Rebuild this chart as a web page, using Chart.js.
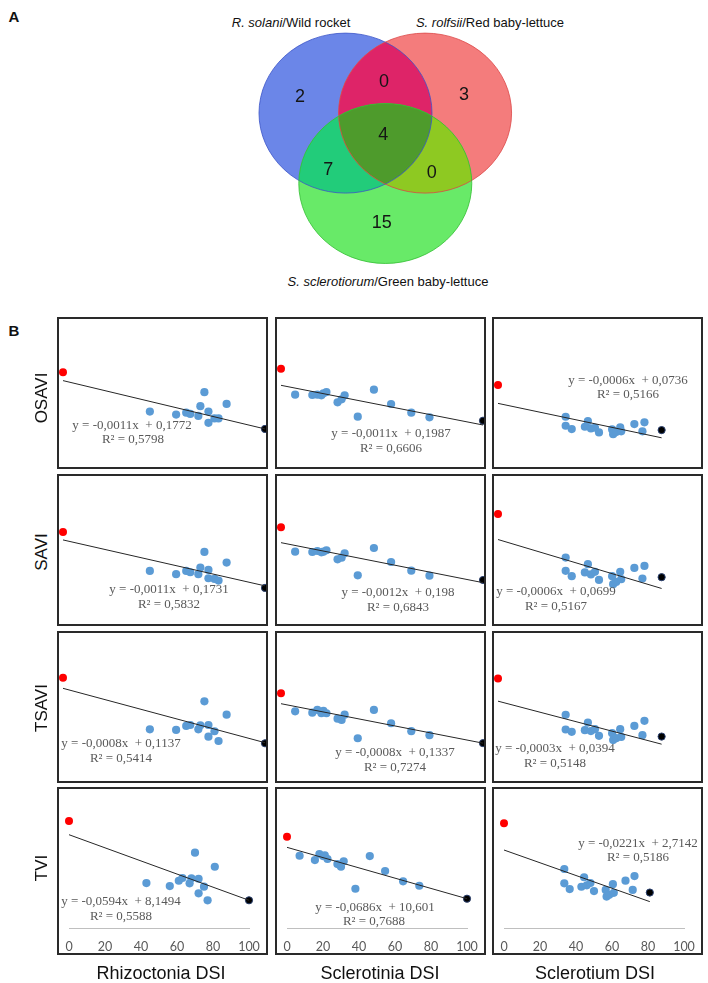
<!DOCTYPE html>
<html>
<head>
<meta charset="utf-8">
<script src="https://cdn.jsdelivr.net/npm/chart.js@4.4.0/dist/chart.umd.min.js"></script>
<style>
body { margin: 0; background: #fff; width: 708px; height: 983px; position: relative; overflow: hidden; font-family: "Liberation Sans", Arial, sans-serif; color: #111; }
.t { position: absolute; transform: translate(-50%, -50%); white-space: pre; }
.rot { transform: translate(-50%, -50%) rotate(-90deg); }
.panel { position: absolute; border: 2px solid #2a2a2a; box-sizing: border-box; }
.panel canvas { display: block; }
.eq { position: absolute; transform: translate(-50%, -50%); white-space: pre; font-family: "Liberation Serif", "Times New Roman", serif; font-size: 13px; color: #595959; }
</style>
</head>
<body>
<div class="t" style="left:14px;top:16px;font-weight:bold;font-size:15px">A</div>
<div class="t" style="left:291px;top:22px;font-size:13px"><i>R. solani</i>/Wild rocket</div>
<div class="t" style="left:490px;top:22px;font-size:13px"><i>S. rolfsii</i>/Red baby-lettuce</div>
<div class="t" style="left:388px;top:281px;font-size:13px"><i>S. sclerotiorum</i>/Green baby-lettuce</div>
<canvas id="venn" width="280" height="245" style="position:absolute;left:250px;top:28px"></canvas>
<div class="t" style="left:14px;top:330px;font-weight:bold;font-size:15px">B</div>

<script>
// --- Venn data ---
const vennCounts = [2, 0, 3, 4, 7, 0, 15];
const vennLabelX = [-0.986, -0.015, 0.91, -0.023, -0.66, 0.536, -0.042];
const vennLabelY = [0.645, 0.833, 0.666, 0.166, -0.271, -0.305, -0.93];
const vennCenterX = [-0.46, 0.46, 0];
const vennCenterY = [0.44, 0.44, -0.44];
const vennRadius = 1;

// --- DSI (x) per pathogen; first = red point, last = black point ---
const rhizoctoniaDSI = [0, 43, 56, 61, 63, 67, 68, 70, 72, 72, 75, 77, 81, 100];
const sclerotiniaDSI = [0, 7, 15.5, 18, 20, 21, 22.5, 28, 30, 31.5, 38, 46, 54.5, 64.5, 73.5, 100];
const sclerotiumDSI = [0, 33.5, 33.5, 36.5, 43, 44.5, 46, 48, 50, 56.5, 57, 58.5, 60.5, 61, 67.5, 71.5, 72.5, 81];

// --- index values ---
const osaviRhizoctonia = [0.1963, 0.1066, 0.0998, 0.1043, 0.1013, 0.0968, 0.1189, 0.1508, 0.1066, 0.0811, 0.0911, 0.0911, 0.1241, 0.0672];
const osaviSclerotinia = [0.2447, 0.1727, 0.1718, 0.1727, 0.171, 0.1765, 0.1801, 0.1516, 0.1599, 0.171, 0.1117, 0.1865, 0.1469, 0.1228, 0.1101, 0.1006];
const osaviSclerotium = [0.0994, 0.0547, 0.0420, 0.0373, 0.0406, 0.0486, 0.0383, 0.0392, 0.0326, 0.0369, 0.0302, 0.0331, 0.0397, 0.0341, 0.0444, 0.0341, 0.0468, 0.0359];

const saviRhizoctonia = [0.1922, 0.0989, 0.0910, 0.0989, 0.0957, 0.0910, 0.1069, 0.1444, 0.1013, 0.0814, 0.0798, 0.0758, 0.1189, 0.0583];
const saviSclerotinia = [0.2442, 0.171, 0.170, 0.173, 0.169, 0.171, 0.1752, 0.148, 0.153, 0.166, 0.1001, 0.182, 0.140, 0.114, 0.099, 0.086];
const saviSclerotium = [0.0953, 0.0520, 0.0388, 0.0335, 0.0372, 0.0454, 0.0352, 0.0378, 0.0298, 0.0335, 0.0256, 0.0278, 0.0378, 0.0305, 0.0417, 0.0312, 0.0437, 0.0325];

const tsaviRhizoctonia = [0.1293, 0.0534, 0.0524, 0.0583, 0.0597, 0.0534, 0.0593, 0.0946, 0.0597, 0.0425, 0.0505, 0.0362, 0.0749, 0.0328];
const tsaviSclerotinia = [0.1547, 0.1183, 0.1155, 0.1210, 0.1143, 0.1190, 0.1143, 0.1034, 0.1008, 0.1115, 0.0637, 0.1210, 0.0941, 0.0779, 0.0699, 0.0537];
const tsaviSclerotium = [0.0522, 0.0317, 0.0234, 0.0221, 0.0230, 0.0273, 0.0225, 0.0236, 0.0198, 0.0213, 0.0174, 0.0185, 0.0236, 0.0192, 0.0254, 0.0202, 0.0283, 0.0194];

const tviRhizoctonia = [9.39, 3.77, 3.50, 3.98, 4.23, 3.75, 4.20, 6.52, 4.16, 2.84, 3.44, 2.21, 5.25, 2.21];
const tviSclerotinia = [12.02, 9.48, 8.90, 9.71, 9.44, 9.53, 9.04, 8.37, 8.01, 8.73, 5.07, 9.44, 7.44, 6.06, 5.47, 3.74];
const tviSclerotium = [3.64, 2.056, 1.56, 1.36, 1.44, 1.77, 1.49, 1.57, 1.29, 1.33, 1.10, 1.16, 1.53, 1.23, 1.65, 1.33, 1.81, 1.24];

// --- trendlines ---
const slopes = [[-0.0011, -0.0011, -0.0006], [-0.0011, -0.0012, -0.0006], [-0.0008, -0.0008, -0.0003], [-0.0594, -0.0686, -0.0221]];
const intercepts = [[0.1772, 0.1987, 0.0736], [0.1731, 0.198, 0.0699], [0.1137, 0.1337, 0.0394], [8.1494, 10.601, 2.7142]];
const rSquared = [[0.5798, 0.6606, 0.5166], [0.5832, 0.6843, 0.5167], [0.5414, 0.7274, 0.5148], [0.5588, 0.7688, 0.5186]];

// --- hidden y ranges and x ticks ---
const yMin = [[-0.0195, -0.0277, -0.0162], [-0.0282, -0.046, -0.014], [-0.0227, -0.023, -0.0057], [-0.3, -0.17, 0.01]];
const yMax = [[0.3175, 0.3825, 0.1927], [0.3262, 0.398, 0.133], [0.1951, 0.277, 0.0779], [12.29, 18.39, 4.83]];
const xTicks = [0, 20, 40, 60, 80, 100];

const indexNames = ['OSAVI', 'SAVI', 'TSAVI', 'TVI'];
const diseaseNames = ['Rhizoctonia DSI', 'Sclerotinia DSI', 'Sclerotium DSI'];
const xByCol = [rhizoctoniaDSI, sclerotiniaDSI, sclerotiumDSI];
const yByPanel = [
    [osaviRhizoctonia, osaviSclerotinia, osaviSclerotium],
    [saviRhizoctonia, saviSclerotinia, saviSclerotium],
    [tsaviRhizoctonia, tsaviSclerotinia, tsaviSclerotium],
    [tviRhizoctonia, tviSclerotinia, tviSclerotium]
];

// layout
const colLeft = [57, 275, 492];
const panelW = 211;
const rowTop = [317, 474, 631, 787];
const rowH = [152, 152, 152, 168];
const rowLabelY = [398, 552, 708, 868];
const colLabelX = [161, 380, 595];
const eqPos = [
    [132, 425, 133, 439], [391, 433, 391, 448], [628, 380, 628, 394],
    [169, 589, 169, 604], [398, 592, 398, 607], [556, 591, 556, 606],
    [121, 743, 121, 758], [395, 752, 395, 767], [555, 748, 555, 763],
    [121, 901, 121, 916], [375, 907, 374, 921], [638, 843, 638, 857]
];

function addText(cls, x, y, txt, style) {
    const d = document.createElement('div');
    d.className = cls;
    d.style.left = x + 'px';
    d.style.top = y + 'px';
    if (style) d.style.cssText += style;
    d.textContent = txt;
    document.body.appendChild(d);
}

// Venn diagram
const vennPlugin = {
    id: 'venn',
    beforeDatasetsDraw(chart) {
        const ctx = chart.ctx;
        const xs = chart.scales.x, ys = chart.scales.y;
        const rx = Math.abs(xs.getPixelForValue(vennRadius) - xs.getPixelForValue(0));
        const ry = Math.abs(ys.getPixelForValue(vennRadius) - ys.getPixelForValue(0));
        const ell = i => {
            ctx.beginPath();
            ctx.ellipse(xs.getPixelForValue(vennCenterX[i]), ys.getPixelForValue(vennCenterY[i]), rx, ry, 0, 0, Math.PI * 2);
        };
        const solo = ['#6b86e8', '#f47c7c', '#68ea68'];
        const edge = ['rgba(60,85,200,0.8)', 'rgba(220,70,70,0.8)', 'rgba(50,190,50,0.8)'];
        ctx.save();
        for (let i = 0; i < 3; i++) { ell(i); ctx.fillStyle = solo[i]; ctx.fill(); }
        const pairs = [[0, 1, '#de2468'], [0, 2, '#22cc7a'], [1, 2, '#8ec922']];
        for (const [a, b, c] of pairs) {
            ctx.save(); ell(a); ctx.clip(); ell(b); ctx.fillStyle = c; ctx.fill(); ctx.restore();
        }
        ctx.save(); ell(0); ctx.clip(); ell(1); ctx.clip(); ell(2); ctx.fillStyle = '#4e9b2c'; ctx.fill(); ctx.restore();
        ctx.lineWidth = 1;
        for (let i = 0; i < 3; i++) { ell(i); ctx.strokeStyle = edge[i]; ctx.stroke(); }
        ctx.restore();
    },
    afterDatasetsDraw(chart) {
        const ctx = chart.ctx;
        const meta = chart.getDatasetMeta(0);
        ctx.save();
        ctx.font = '18px "Liberation Sans", Arial, sans-serif';
        ctx.fillStyle = '#151515';
        ctx.textAlign = 'center';
        ctx.textBaseline = 'middle';
        meta.data.forEach((pt, i) => ctx.fillText(String(vennCounts[i]), pt.x, pt.y));
        ctx.restore();
    }
};

new Chart(document.getElementById('venn'), {
    type: 'scatter',
    data: { datasets: [{ data: vennLabelX.map((x, i) => ({ x: x, y: vennLabelY[i] })), pointRadius: 0 }] },
    options: {
        responsive: false, animation: false, events: [],
        layout: { padding: 0, autoPadding: false },
        plugins: { legend: { display: false }, tooltip: { enabled: false } },
        scales: {
            x: { display: false, min: -1.564, max: 1.673 },
            y: { display: false, min: -1.559, max: 1.504 }
        }
    },
    plugins: [vennPlugin]
});

// scatter panels
function makePanel(r, c) {
    const isBottom = r === 3;
    const div = document.createElement('div');
    div.className = 'panel';
    div.style.left = colLeft[c] + 'px';
    div.style.top = rowTop[r] + 'px';
    div.style.width = panelW + 'px';
    div.style.height = rowH[r] + 'px';
    const cv = document.createElement('canvas');
    cv.width = panelW - 4;
    cv.height = rowH[r] - 4;
    div.appendChild(cv);
    document.body.appendChild(div);

    const xs = xByCol[c], ys = yByPanel[r][c];
    const pts = xs.map((x, i) => ({ x: x, y: ys[i] }));
    const n = pts.length;
    const x0 = Math.min(...xs), x1 = Math.max(...xs);
    const trend = [x0, x1].map(x => ({ x: x, y: slopes[r][c] * x + intercepts[r][c] }));

    const xScale = {
        type: 'linear', min: 0, max: 100, display: isBottom,
        grid: { display: false, drawTicks: true, tickLength: 11 },
        border: { display: true, color: '#bfbfbf', width: 1 },
        ticks: { padding: 0, color: '#595959', font: { family: 'Lato', size: 12.5 } },
        afterBuildTicks: s => { s.ticks = xTicks.map(v => ({ value: v })); }
    };
    if (isBottom) xScale.afterFit = s => { s.height = 25; };

    new Chart(cv, {
        type: 'scatter',
        data: {
            datasets: [
                { type: 'line', data: trend, borderColor: '#262626', borderWidth: 1, pointRadius: 0, fill: false, clip: false },
                { data: [pts[n - 1]], backgroundColor: '#000', borderColor: '#2b4170', borderWidth: 1, pointRadius: 3.6, clip: false },
                { data: [pts[0]], backgroundColor: '#ff0000', borderColor: '#ff0000', borderWidth: 0, pointRadius: 4, clip: false },
                { data: pts.slice(1, n - 1), backgroundColor: '#5b9bd5', borderColor: '#5b9bd5', borderWidth: 0, pointRadius: 4.1, clip: false }
            ]
        },
        options: {
            responsive: false, animation: false, events: [],
            layout: { autoPadding: false, padding: { left: isBottom ? 10 : 4, right: isBottom ? 17 : 1, top: 0, bottom: 0 } },
            plugins: { legend: { display: false }, tooltip: { enabled: false } },
            scales: {
                x: xScale,
                y: { display: false, min: yMin[r][c], max: yMax[r][c] }
            }
        }
    });

    const p = eqPos[r * 3 + c];
    const fmt = v => String(v).replace('.', ',');
    addText('eq', p[0], p[1], 'y = ' + fmt(slopes[r][c]) + 'x  + ' + fmt(intercepts[r][c]));
    addText('eq', p[2], p[3], 'R\u00b2 = ' + fmt(rSquared[r][c]));
}

for (let r = 0; r < 4; r++) {
    for (let c = 0; c < 3; c++) makePanel(r, c);
    addText('t rot', 42, rowLabelY[r], indexNames[r], 'font-size:17px;color:#111');
}
diseaseNames.forEach((name, c) => addText('t', colLabelX[c], 973, name, 'font-size:18px;color:#111'));
</script>
</body>
</html>
